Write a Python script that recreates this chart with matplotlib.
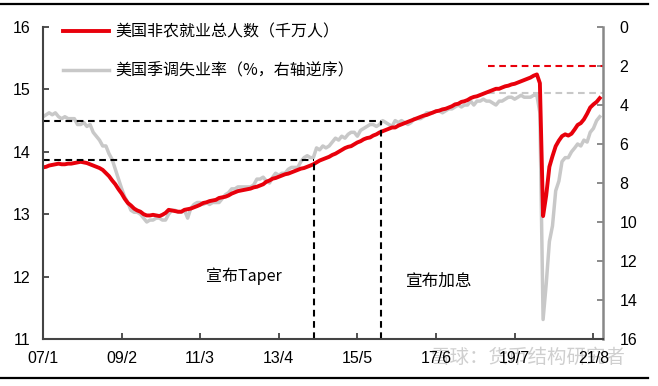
import pandas as pd
import matplotlib
matplotlib.use('Agg')
import matplotlib.pyplot as plt
from matplotlib.lines import Line2D

# monthly data, Jan 2007 - Oct 2021
months = pd.date_range('2007-01-01', '2021-10-01', freq='MS')

# 美国非农就业总人数 (千万人)
payrolls = [
    13.75, 13.76, 13.78, 13.79, 13.80, 13.81, 13.80, 13.80, 13.81, 13.81, 13.82, 13.83,
    13.84, 13.83, 13.82, 13.80, 13.78, 13.76, 13.74, 13.71, 13.66, 13.61, 13.54, 13.48,
    13.40, 13.33, 13.25, 13.18, 13.14, 13.09, 13.06, 13.04, 13.00, 12.98, 12.98, 12.99,
    12.98, 12.97, 12.99, 13.02, 13.07, 13.06, 13.05, 13.04, 13.04, 13.07, 13.08, 13.09,
    13.11, 13.13, 13.15, 13.18, 13.19, 13.21, 13.22, 13.23, 13.26, 13.27, 13.28, 13.30,
    13.33, 13.35, 13.37, 13.38, 13.39, 13.40, 13.41, 13.43, 13.44, 13.46, 13.48, 13.52,
    13.54, 13.57, 13.58, 13.60, 13.62, 13.64, 13.65, 13.67, 13.69, 13.71, 13.73, 13.74,
    13.76, 13.78, 13.80, 13.83, 13.86, 13.88, 13.90, 13.92, 13.95, 13.97, 14.00, 14.03,
    14.06, 14.08, 14.09, 14.12, 14.15, 14.17, 14.20, 14.22, 14.23, 14.26, 14.28, 14.31,
    14.33, 14.35, 14.37, 14.39, 14.39, 14.42, 14.44, 14.46, 14.48, 14.50, 14.52, 14.54,
    14.56, 14.58, 14.59, 14.61, 14.63, 14.65, 14.66, 14.68, 14.69, 14.71, 14.73, 14.76,
    14.77, 14.80, 14.81, 14.83, 14.86, 14.88, 14.89, 14.91, 14.93, 14.95, 14.97, 14.99,
    15.01, 15.01, 15.03, 15.05, 15.06, 15.08, 15.09, 15.11, 15.13, 15.15, 15.17, 15.19,
    15.22, 15.24, 15.10, 12.97, 13.30, 13.76, 13.93, 14.09, 14.18, 14.25, 14.28, 14.26,
    14.29, 14.36, 14.43, 14.46, 14.52, 14.61, 14.71, 14.76, 14.80, 14.86,
]

# 美国季调失业率 (%)
unemp = [
    4.6, 4.5, 4.4, 4.5, 4.4, 4.6, 4.7, 4.6, 4.7, 4.7, 4.7, 5.0,
    5.0, 4.9, 5.1, 5.0, 5.4, 5.6, 5.8, 6.1, 6.1, 6.5, 6.8, 7.3,
    7.8, 8.3, 8.7, 9.0, 9.4, 9.5, 9.5, 9.6, 9.8, 10.0, 9.9, 9.9,
    9.8, 9.8, 9.9, 9.9, 9.6, 9.4, 9.4, 9.5, 9.5, 9.4, 9.8, 9.3,
    9.1, 9.0, 9.0, 9.1, 9.0, 9.1, 9.0, 9.0, 9.0, 8.8, 8.6, 8.5,
    8.3, 8.3, 8.2, 8.2, 8.2, 8.2, 8.2, 8.1, 7.8, 7.8, 7.7, 7.9,
    8.0, 7.7, 7.5, 7.6, 7.5, 7.5, 7.3, 7.2, 7.2, 7.2, 6.9, 6.7,
    6.6, 6.7, 6.7, 6.2, 6.3, 6.1, 6.2, 6.1, 5.9, 5.7, 5.8, 5.6,
    5.7, 5.5, 5.4, 5.4, 5.6, 5.3, 5.2, 5.1, 5.0, 5.0, 5.1, 5.0,
    4.8, 4.9, 5.0, 5.1, 4.8, 4.9, 4.8, 4.9, 5.0, 4.9, 4.7, 4.7,
    4.7, 4.6, 4.4, 4.4, 4.4, 4.3, 4.3, 4.4, 4.3, 4.2, 4.2, 4.1,
    4.0, 4.1, 4.0, 4.0, 3.8, 4.0, 3.8, 3.8, 3.7, 3.8, 3.8, 3.9,
    4.0, 3.8, 3.8, 3.7, 3.6, 3.6, 3.7, 3.6, 3.5, 3.6, 3.6, 3.6,
    3.5, 3.5, 4.4, 15.0, 13.2, 11.0, 10.2, 8.4, 7.9, 6.9, 6.7, 6.7,
    6.4, 6.2, 6.0, 6.1, 5.8, 5.9, 5.4, 5.2, 4.8, 4.6,
]

tick_dates = pd.to_datetime(['2007-01-01', '2009-02-01', '2011-03-01', '2013-04-01',
                             '2015-05-01', '2017-06-01', '2019-07-01', '2021-08-01'])
tick_labels = ['07/1', '09/2', '11/3', '13/4', '15/5', '17/6', '19/7', '21/8']

taper_date = pd.Timestamp('2014-03-10')
hike_date = pd.Timestamp('2015-12-16')
ref_start = pd.Timestamp('2018-10-15')
taper_level = 13.87
hike_level = 14.5
red_ref = 2.0
gray_ref = 3.4

RED = '#e8000b'
GRAY = '#c8c8c8'
cjk = ['Noto Sans CJK SC', 'DejaVu Sans']
plt.rcParams['font.family'] = ['Liberation Sans', 'DejaVu Sans']

fig = plt.figure(figsize=(6.58, 3.86), dpi=100)
ax = fig.add_axes([0.0653, 0.1218, 0.851, 0.8082])
ax2 = ax.twinx()
ax.set_zorder(ax2.get_zorder() + 1)
ax.patch.set_visible(False)

g, = ax2.plot(months, unemp, color=GRAY, lw=2.5, label='美国季调失业率（%，右轴逆序）')
r, = ax.plot(months, payrolls, color=RED, lw=2.8, label='美国非农就业总人数（千万人）')

xl = (pd.Timestamp('2007-01-01'), pd.Timestamp('2021-11-01'))
ax.set_xlim(xl)
ax.set_ylim(11, 16)
ax2.set_ylim(16, 0)

dash = (3.2, 2.2)
ax.plot([xl[0], hike_date], [hike_level, hike_level], color='black', lw=1.5, dashes=dash)
ax.plot([xl[0], taper_date], [taper_level, taper_level], color='black', lw=1.5, dashes=dash)
ax.plot([taper_date, taper_date], [11, taper_level], color='black', lw=1.5, dashes=dash)
ax.plot([hike_date, hike_date], [11, hike_level], color='black', lw=1.5, dashes=dash)
ax2.plot([ref_start, xl[1]], [red_ref, red_ref], color=RED, lw=1.5, dashes=dash)
ax2.plot([ref_start, xl[1]], [gray_ref, gray_ref], color=GRAY, lw=1.5, dashes=dash)

ax.text(pd.Timestamp('2011-05-01'), 12.0, '宣布Taper', family=cjk, fontsize=11.5,
        ha='left', va='center')
ax.text(pd.Timestamp('2016-08-15'), 11.93, '宣布加息', family=cjk, fontsize=12,
        ha='left', va='center')

ax.set_yticks([11, 12, 13, 14, 15, 16])
ax2.set_yticks(range(0, 17, 2))
ax.set_xticks(tick_dates)
ax.set_xticklabels(tick_labels)
ax.tick_params(axis='both', direction='in', length=4, width=1.2, labelsize=11.5, colors='#333333',
               labelcolor='black')
ax.tick_params(axis='x', pad=9)
ax.tick_params(axis='y', pad=9)
ax2.tick_params(axis='y', direction='in', length=4, width=1.2, labelsize=11.5, pad=12,
                colors='#777777', labelcolor='black')

for a in (ax, ax2):
    a.spines['top'].set_visible(False)
ax.spines['left'].set_color('#444444')
ax.spines['bottom'].set_color('#444444')
ax.spines['right'].set_visible(False)
ax2.spines['left'].set_visible(False)
ax2.spines['bottom'].set_visible(False)
ax2.spines['right'].set_color('#888888')
ax2.spines['right'].set_linewidth(1.8)
for s in ('left', 'bottom'):
    ax.spines[s].set_linewidth(1.5)

leg = ax.legend(handles=[r, g], loc='upper left', bbox_to_anchor=(0.035, 1.01),
                frameon=False, prop={'family': cjk, 'size': 11.5}, handlelength=2.9,
                handletextpad=0.4, labelspacing=1.36, borderaxespad=0, borderpad=0)

# header / footer rules and watermark
fig.add_artist(Line2D([0.0, 0.985], [0.99, 0.99], color='black', lw=1.6))
fig.add_artist(Line2D([0.0, 0.985], [0.022, 0.022], color='black', lw=1.6))
fig.text(0.655, 0.075, '雪球：货币结构研究者', family=cjk, fontsize=14, color='#bbbbbb',
         alpha=0.7, ha='left', va='center', zorder=0)

fig.savefig('out.png', dpi=100)
